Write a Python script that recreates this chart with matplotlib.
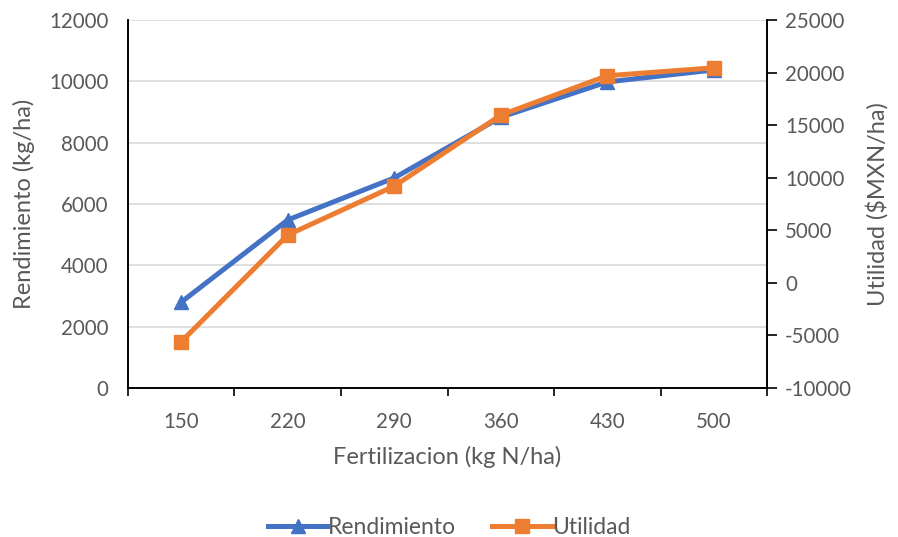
import matplotlib.pyplot as plt
from matplotlib.lines import Line2D

# dosis de nitrogeno y resultados por tratamiento
dosis = ['150', '220', '290', '360', '430', '500']
rendimiento = [2800, 5480, 6850, 8830, 9980, 10370]
utilidad = [-5600, 4550, 9200, 15950, 19700, 20450]

azul = '#4472C4'
naranja = '#ED7D31'
gris_texto = '#595959'

plt.rcParams['font.family'] = ['Lato', 'DejaVu Sans']
plt.rcParams['axes.unicode_minus'] = False

fig = plt.figure(figsize=(8.98, 5.37), dpi=100)
ax = fig.add_axes([0.1425, 0.2775, 0.7117, 0.6853])
ax2 = ax.twinx()

x = list(range(len(dosis)))
ax.plot(x, rendimiento, color=azul, lw=3.6, marker='^', ms=10, label='Rendimiento', zorder=3)
ax2.plot(x, utilidad, color=naranja, lw=3.6, marker='s', ms=10, label='Utilidad', zorder=3)

ax.set_xlim(-0.5, len(dosis) - 0.5)
ax.set_ylim(0, 12000)
ax.set_yticks(range(0, 12001, 2000))
ax2.set_ylim(-10000, 25000)
ax2.set_yticks(range(-10000, 25001, 5000))

# ticks del eje x entre categorias, etiquetas centradas
ax.set_xticks([i - 0.5 for i in range(len(dosis) + 1)])
ax.set_xticklabels([])
ax.set_xticks(x, minor=True)
ax.set_xticklabels(dosis, minor=True)
ax.tick_params(axis='x', which='major', length=6, width=1.2, color='black', direction='out')
ax.tick_params(axis='x', which='minor', length=0, pad=17, labelsize=14.8, labelcolor=gris_texto)
ax.tick_params(axis='y', length=0, pad=14, labelsize=14.8, labelcolor=gris_texto)
ax2.tick_params(axis='y', length=7, width=1.2, color='black', pad=6, labelsize=14.8, labelcolor=gris_texto)

ax.grid(axis='y', color='#d9d9d9', lw=1.2)
ax.set_axisbelow(True)

for a in (ax, ax2):
    a.spines['top'].set_visible(False)
    for s in ['left', 'right', 'bottom']:
        a.spines[s].set_linewidth(1.2)
        a.spines[s].set_color('black')

ax.set_xlabel('Fertilizacion (kg N/ha)', fontsize=17, color=gris_texto, labelpad=10)
ax.set_ylabel('Rendimiento (kg/ha)', fontsize=17, color=gris_texto, labelpad=10)
ax2.set_ylabel('Utilidad ($MXN/ha)', fontsize=17, color=gris_texto, labelpad=10)

handles = [
    Line2D([], [], color=azul, lw=3.6, marker='^', ms=10),
    Line2D([], [], color=naranja, lw=3.6, marker='s', ms=10),
]
fig.legend(handles, ['Rendimiento', 'Utilidad'], loc='center', bbox_to_anchor=(0.5, 0.018),
           ncol=2, frameon=False, fontsize=16.5, labelcolor=gris_texto,
           handlelength=2.6, handletextpad=0.0, columnspacing=1.6)

fig.savefig('out.png', dpi=100)
